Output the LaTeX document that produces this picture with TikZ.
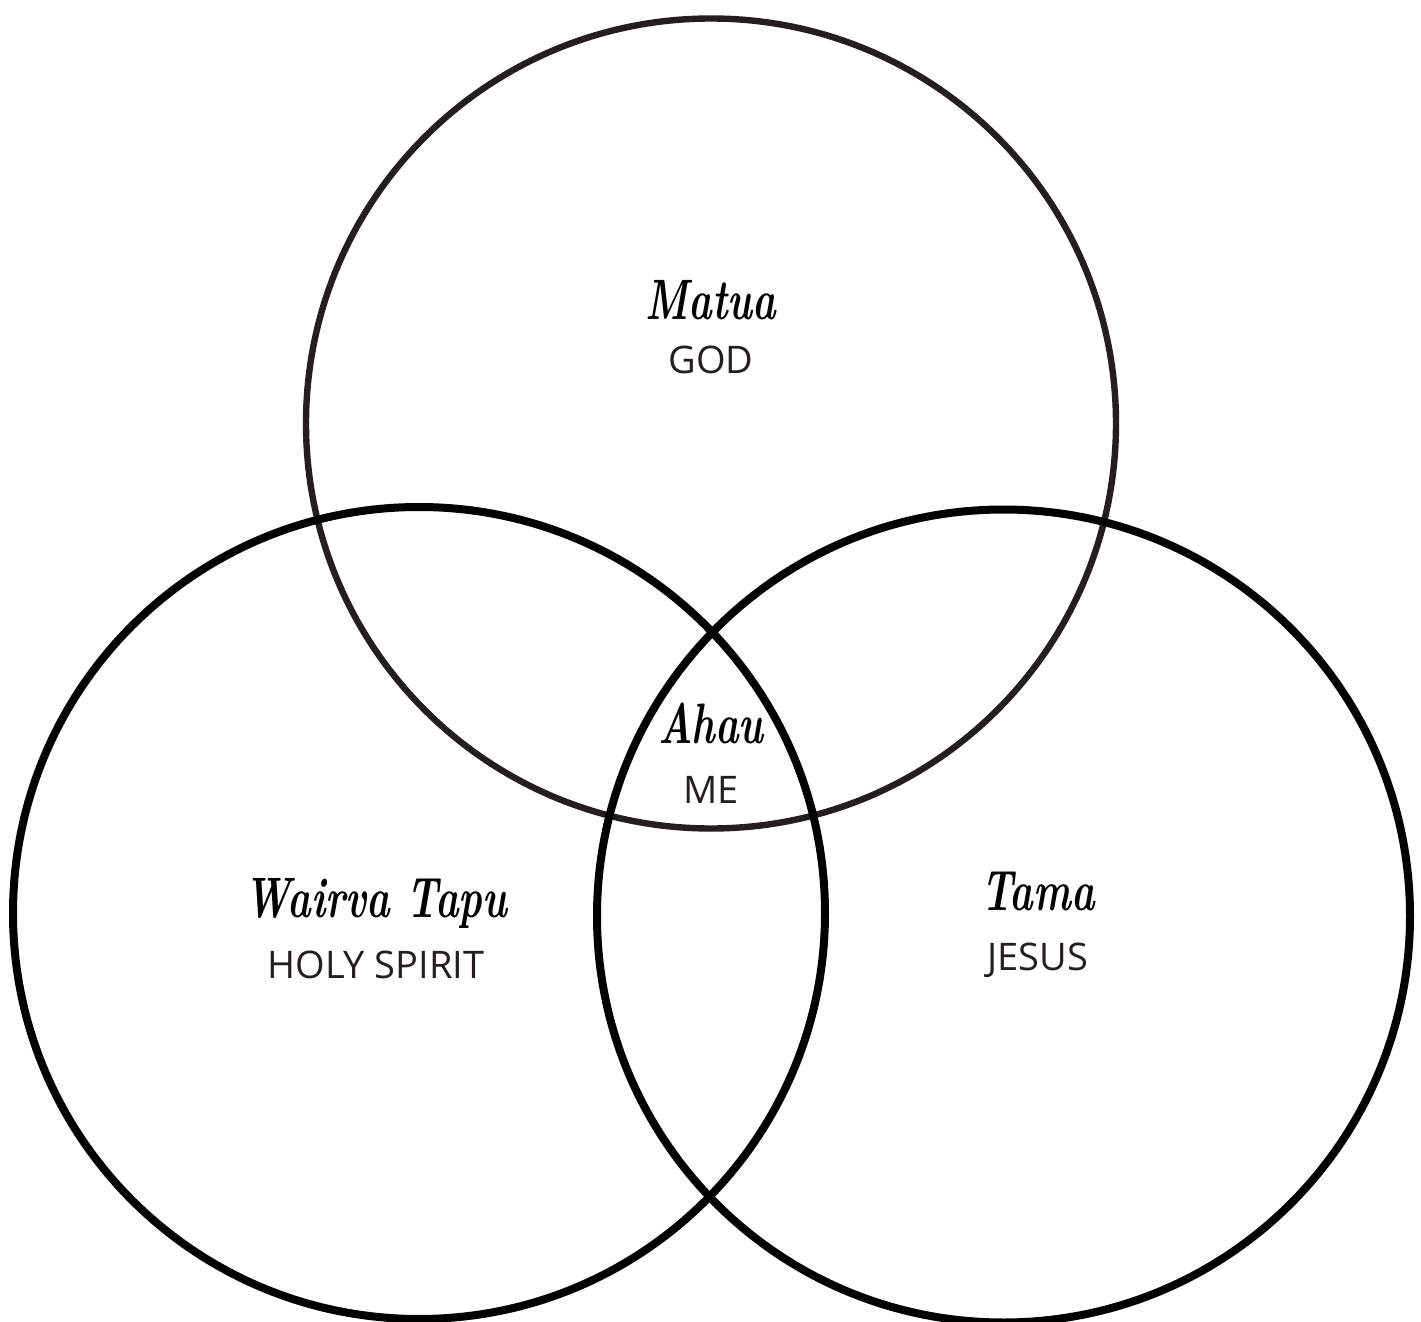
\documentclass[tikz,border=0pt]{standalone}
\usepackage{fontspec}
\setsansfont{Open Sans}
\definecolor{ink}{HTML}{231F20}
\newcommand{\handtext}[1]{\scalebox{0.7}[1]{\fontsize{28.5}{30}\selectfont\bfseries\itshape #1}}
\begin{document}
\begin{tikzpicture}[x=0.5pt,y=-0.5pt,
  ring/.style={line width=4pt, draw=black},
  topring/.style={line width=3.2pt, draw=ink},
  hand/.style={anchor=base, text=black, inner sep=0pt},
  eng/.style={anchor=base, text=ink, inner sep=0pt, font=\sffamily\fontsize{19}{21}\selectfont}]
\useasboundingbox (0,0) rectangle (1421,1322);
\begin{scope}
\clip (0,0) rectangle (1421,1322);
\draw[topring] (711,423.5) circle[radius=405];
\draw[ring] (419,913) circle[radius=406];
\draw[ring] (1003.5,916) circle[radius=406.5];
\end{scope}
\node[hand] (matua) at (711,320) {\handtext{Matua}};
\node[eng] (god) at (711,373) {GOD};
\node[hand] (ahau) at (711,743) {\handtext{Ahau}};
\node[eng] (me) at (711,803) {ME};
\node[hand] (wairua) at (376,917) {\handtext{Wairva Tapu}};
\node[eng] (holy) at (376,978) {HOLY SPIRIT};
\node[hand] (tama) at (1038,910) {\handtext{Tama}};
\node[eng] (jesus) at (1038,970) {JESUS};
\end{tikzpicture}
\end{document}
